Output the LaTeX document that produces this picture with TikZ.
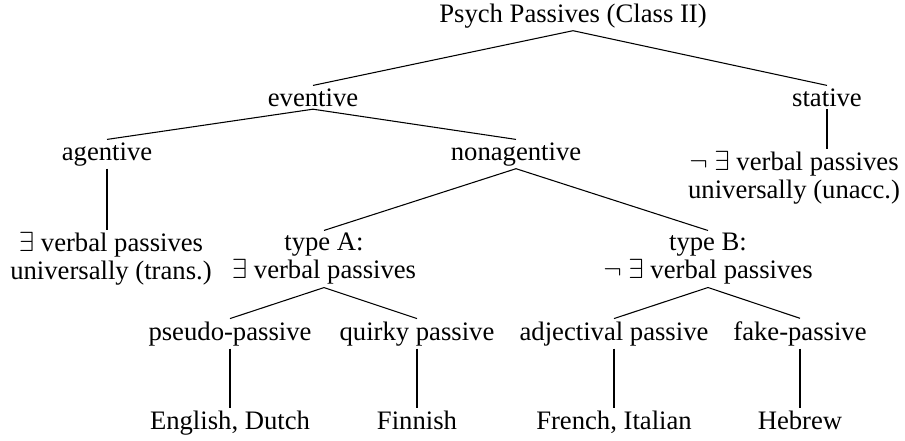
\documentclass[tikz,border=0pt]{standalone}
\usepackage{fontspec}
\setmainfont{Liberation Serif}
\usepackage{amssymb}
\tikzset{
  lbl/.style={inner sep=2pt, align=center, font=\fontsize{20}{21}\selectfont},
  branch/.style={line width=0.8pt}
}
\newcommand{\ex}{$\exists$}
\newcommand{\nex}{$\neg$ $\exists$}

\begin{document}
\begin{tikzpicture}[x=0.75pt,y=0.75pt,yscale=-1,xscale=1]
\useasboundingbox (0,0) rectangle (905,440);

% Text Node
\node [lbl, anchor=base] (root) at (573,22) {Psych Passives (Class II)};
% Text Node
\node [lbl, anchor=base] (eventive) at (313,106) {eventive};
\node [lbl, anchor=base] (stative) at (827,106) {stative};
% Text Node
\node [lbl, anchor=base] (agentive) at (107,160) {agentive};
\node [lbl, anchor=base] (nonagentive) at (516,160) {nonagentive};
% Text Node
\node [lbl] (statdesc) at (794,178) {\nex{} verbal passives\\universally (unacc.)};
\node [lbl] (agentdesc) at (111,259) {\ex{} verbal passives\\universally (trans.)};
\node [lbl] (typeA) at (324,259) {type A:\\\ex{} verbal passives};
\node [lbl] (typeB) at (708,259) {type B:\\\nex{} verbal passives};
% Text Node
\node [lbl, anchor=base] (pseudo) at (230,340) {pseudo-passive};
\node [lbl, anchor=base] (quirky) at (417,340) {quirky passive};
\node [lbl, anchor=base] (adjectival) at (614,340) {adjectival passive};
\node [lbl, anchor=base] (fake) at (800,340) {fake-passive};
% Text Node
\node [lbl, anchor=base] (english) at (230,429) {English, Dutch};
\node [lbl, anchor=base] (finnish) at (417,429) {Finnish};
\node [lbl, anchor=base] (french) at (614,429) {French, Italian};
\node [lbl, anchor=base] (hebrew) at (800,429) {Hebrew};

%Straight Lines
\draw [branch] (root.south) -- (eventive.north);
\draw [branch] (root.south) -- (stative.north);
\draw [branch] (eventive.south) -- (agentive.north);
\draw [branch] (eventive.south) -- (nonagentive.north);
\draw [branch] (agentive.south) -- (agentive.south |- agentdesc.north);
\draw [branch] (stative.south) -- (stative.south |- statdesc.north);
\draw [branch] (nonagentive.south) -- (typeA.north);
\draw [branch] (nonagentive.south) -- (typeB.north);
%Straight Lines
\draw [branch] (typeA.south) -- (pseudo.north);
\draw [branch] (typeA.south) -- (quirky.north);
\draw [branch] (typeB.south) -- (adjectival.north);
\draw [branch] (typeB.south) -- (fake.north);
\draw [branch] (pseudo.south) -- (english.north);
\draw [branch] (quirky.south) -- (finnish.north);
\draw [branch] (adjectival.south) -- (french.north);
\draw [branch] (fake.south) -- (hebrew.north);

\end{tikzpicture}
\end{document}
